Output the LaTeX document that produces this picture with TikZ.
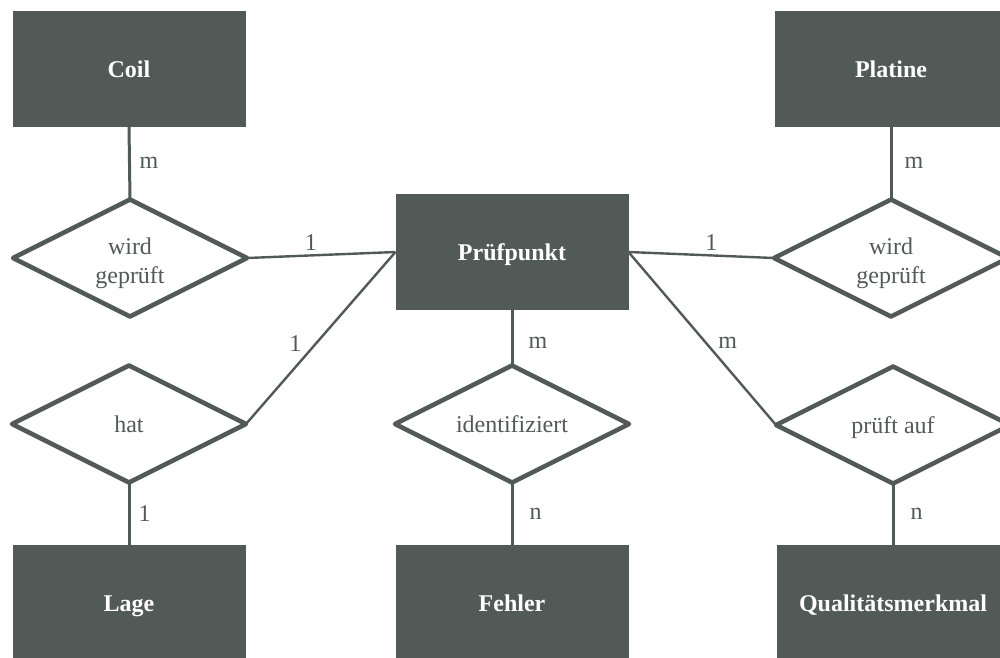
\documentclass[tikz,border=0pt]{standalone}
\usepackage{fontspec}
\setmainfont{Liberation Serif}
\usetikzlibrary{shapes.geometric}
\definecolor{erdark}{RGB}{82,90,88}
\begin{document}
\begin{tikzpicture}[x=1pt,y=-1pt,
  entity/.style={rectangle, fill=erdark, minimum width=233pt, minimum height=116pt,
    inner sep=0pt, outer sep=0pt, text height=16pt, text depth=0pt,
    text=white, font=\fontsize{24}{28}\selectfont\bfseries},
  relation/.style={diamond, aspect=2, draw=erdark, line width=4.5pt, line join=round, fill=white,
    minimum width=234pt, minimum height=117pt, inner sep=0pt, outer sep=0pt,
    text height=16pt, text depth=0pt,
    text=erdark, font=\fontsize{24}{29}\selectfont, align=center},
  tworows/.style={text height=50pt},
  link/.style={draw=erdark, line width=3pt},
  slant/.style={draw=erdark, line width=2.4pt},
  card/.style={inner sep=0pt, text=erdark, font=\fontsize{24}{28}\selectfont}]

\useasboundingbox (0,0) rectangle (1000,657);
\fill[white] (0,0) rectangle (1000,657);
\clip (0,0) rectangle (1000,657);

% entities
\node[entity] (coil)    at (129,69)  {Coil};
\node[entity] (platine) at (891,69)  {Platine};
\node[entity] (pp)      at (512,252) {Prüfpunkt};
\node[entity] (lage)    at (129,603) {Lage};
\node[entity] (fehler)  at (512,603) {Fehler};
\node[entity] (qm)      at (893,603) {Qualitätsmerkmal};

% relationships
\node[relation, tworows] (wgl) at (130,258) {wird\\geprüft};
\node[relation, tworows] (wgr) at (891,258) {wird\\geprüft};
\node[relation] (hat)   at (129,424) {hat};
\node[relation] (ident) at (512,424) {identifiziert};
\node[relation] (pauf)  at (893,425) {prüft auf};

% connectors with cardinalities
\draw[link] (coil.south) -- node[card, right=8.5pt] (c1) {m} (wgl.north);
\draw[slant] (wgl.east) -- node[card, pos=0.43, above=4pt] (c2) {1} (pp.west);
\draw[slant] (hat.east) -- node[card, pos=0.465, left=13pt] (c3) {1} (pp.west);
\draw[link] (hat.south) -- node[card, right=8pt] (c4) {1} (lage.north);
\draw[link] (pp.south) -- node[card, pos=0.6, right=15pt] (c5) {m} (ident.north);
\draw[link] (ident.south) -- node[card, right=16pt] (c6) {n} (fehler.north);
\draw[slant] (pp.east) -- node[card, pos=0.57, above=4pt] (c7) {1} (wgr.west);
\draw[slant] (pp.east) -- node[card, pos=0.526, right=11pt] (c8) {m} (pauf.west);
\draw[link] (platine.south) -- node[card, right=12pt] (c9) {m} (wgr.north);
\draw[link] (pauf.south) -- node[card, right=16pt] (c10) {n} (qm.north);
\end{tikzpicture}
\end{document}
